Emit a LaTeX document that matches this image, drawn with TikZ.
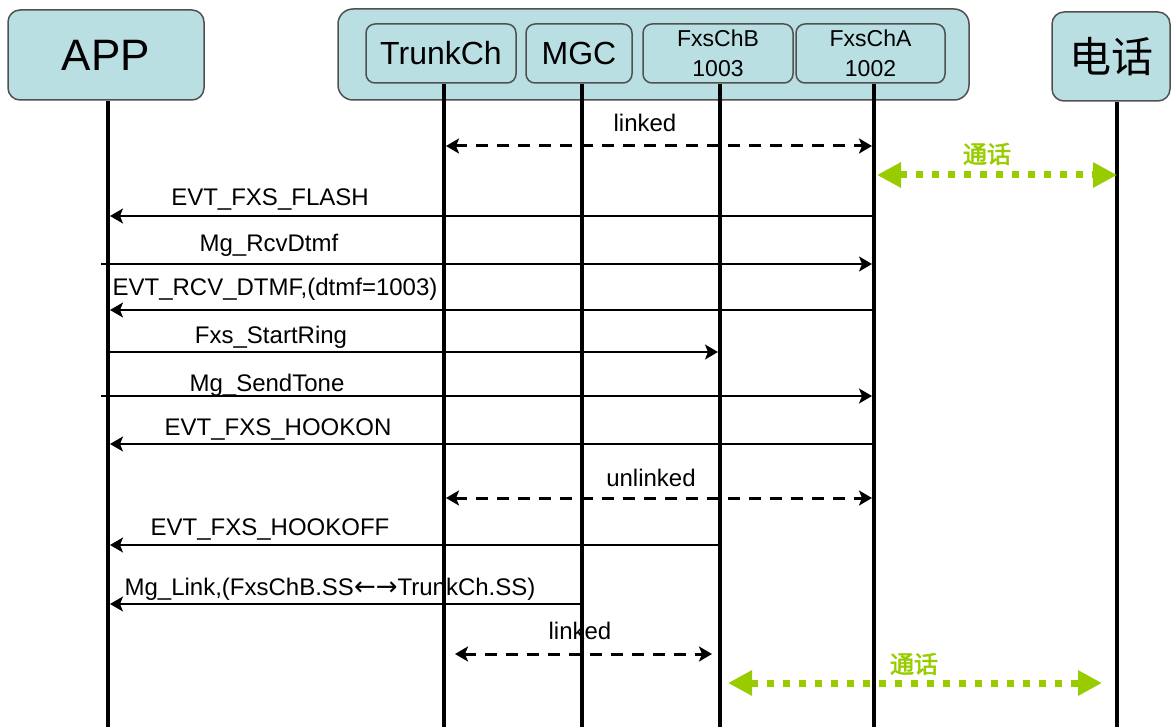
\documentclass[tikz,border=0pt]{standalone}
\usepackage{fontspec}
\setmainfont{Liberation Sans}
\newfontfamily\cjk{Noto Sans CJK SC}
\newfontfamily\cjkb{Noto Sans CJK SC}[FakeBold=2.5]
\newfontfamily\symf{DejaVu Sans}
\usetikzlibrary{arrows.meta}
\definecolor{boxfill}{HTML}{B9DFE2}
\definecolor{boxline}{HTML}{505050}
\definecolor{talk}{HTML}{99CC00}
\tikzset{
  hdr/.style={draw=boxline, line width=1.5pt, fill=boxfill, rounded corners=12pt, inner sep=0pt},
  innerbox/.style={hdr, minimum height=59pt, rounded corners=9pt},
  life/.style={line width=4pt, black},
  msg/.style={line width=1.4pt, -{Stealth[length=13pt,width=15pt,inset=3pt]}, shorten >=2pt},
  lnk/.style={line width=3pt, dash pattern=on 12pt off 9pt, {Stealth[length=13pt,width=15pt,inset=3pt]}-{Stealth[length=13pt,width=15pt,inset=3pt]}},
  talkarrow/.style={talk, line width=7pt, dash pattern=on 7pt off 9pt, {Triangle[length=24pt,width=24pt]}-{Triangle[length=24pt,width=24pt]}},
  lbl/.style={font=\fontsize{24}{24}\selectfont, anchor=base, inner sep=0pt},
  talklbl/.style={text=talk, font=\cjkb\fontsize{24}{24}\selectfont, anchor=base, inner sep=0pt},
}
\begin{document}
\begin{tikzpicture}[x=1pt, y=-1pt]
\useasboundingbox (0,0) rectangle (1172,727);
% header boxes
\node[hdr, minimum width=631pt, minimum height=91pt, rounded corners=15pt] (grp) at (653.5,54.5) {};
\node[hdr, minimum width=196pt, minimum height=90pt, font=\fontsize{44}{44}\selectfont] (app) at (106,55) {APP};
\node[innerbox, minimum width=150pt, font=\fontsize{32}{32}\selectfont] (tr) at (441,53.5) {TrunkCh};
\node[innerbox, minimum width=106pt, font=\fontsize{32}{32}\selectfont] (mgc) at (579,53.5) {MGC};
\node[innerbox, minimum width=150pt, align=center, font=\fontsize{23}{30}\selectfont] (fb) at (718,53.5) {FxsChB\\1003};
\node[innerbox, minimum width=149pt, align=center, font=\fontsize{23}{30}\selectfont] (fa) at (870.5,53.5) {FxsChA\\1002};
\node[hdr, minimum width=118pt, minimum height=89pt, font=\cjk\fontsize{42}{42}\selectfont] (ph) at (1111,56.5) {电话};

% labels
\node[lbl] (t1) at (645,132) {linked};
\node[talklbl] (t2) at (987,163) {通话};
\node[lbl] (t3) at (270,206) {EVT\_FXS\_FLASH};
\node[lbl] (t4) at (269,252) {Mg\_RcvDtmf};
\node[lbl] (t5) at (275,295) {EVT\_RCV\_DTMF,(dtmf=1003)};
\node[lbl] (t6) at (271,343) {Fxs\_StartRing};
\node[lbl] (t7) at (267,391) {Mg\_SendTone};
\node[lbl] (t8) at (278,435) {EVT\_FXS\_HOOKON};
\node[lbl] (t9) at (651,486) {unlinked};
\node[lbl] (t10) at (270,535) {EVT\_FXS\_HOOKOFF};
\node[lbl] (t11) at (330,595) {Mg\_Link,(FxsChB.SS{\symf\fontsize{26}{26}\selectfont ←→}TrunkCh.SS)};
\node[lbl] (t12) at (580,639) {linked};
\node[talklbl] (t13) at (914,673) {通话};

% lifelines
\foreach \n/\x in {app/108, tr/444, mgc/582, fb/720, fa/874, ph/1117} {
  \coordinate (L\n) at (\x,727);
  \draw[life] (\n.south -| L\n) -- (L\n);
}

% messages
\draw[lnk, shorten <=2pt, shorten >=2pt] (Ltr |- 0,146) -- (Lfa |- 0,146);
\draw[talkarrow, shorten <=3pt, shorten >=0pt] (Lfa |- 0,175) -- (Lph |- 0,175);
\draw[msg] (Lfa |- 0,216) -- (Lapp |- 0,216);
\draw[msg, shorten <=-7pt] (Lapp |- 0,264) -- (Lfa |- 0,264);
\draw[msg] (Lfa |- 0,310) -- (Lapp |- 0,310);
\draw[msg] (Lapp |- 0,352) -- (Lfb |- 0,352);
\draw[msg, shorten <=-7pt] (Lapp |- 0,396) -- (Lfa |- 0,396);
\draw[msg] (Lfa |- 0,444) -- (Lapp |- 0,444);
\draw[lnk, shorten <=2pt, shorten >=2pt] (Ltr |- 0,498) -- (Lfa |- 0,498);
\draw[msg] (Lfb |- 0,545) -- (Lapp |- 0,545);
\draw[msg, shorten <=0pt] (Lmgc |- 0,604) -- (Lapp |- 0,604);
\draw[lnk, shorten <=11pt, shorten >=8pt] (Ltr |- 0,654) -- (Lfb |- 0,654);
\draw[talkarrow, shorten <=8pt, shorten >=15pt] (Lfb |- 0,683) -- (Lph |- 0,683);
\end{tikzpicture}
\end{document}
